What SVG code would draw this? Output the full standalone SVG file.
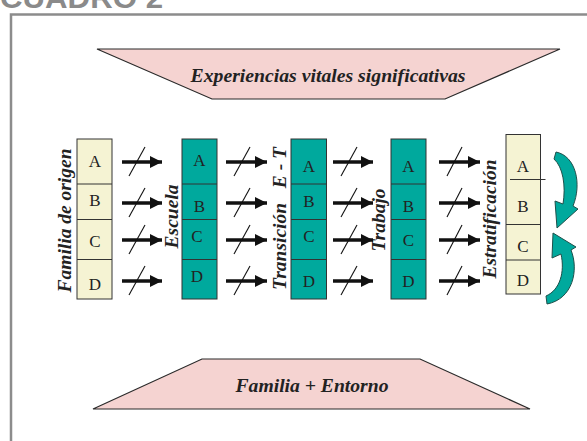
<svg xmlns="http://www.w3.org/2000/svg" width="587" height="441" viewBox="0 0 587 441">
<style>
.frame{fill:none;stroke:#8c8c8c;stroke-width:2.5}
.title{font-family:"Liberation Sans",Arial,sans-serif;font-weight:bold;font-size:30px;fill:#8a8a8a}
.trap{fill:#f5d3d1;stroke:#2a2a2a;stroke-width:1.2}
.trapText{font-family:"Liberation Serif","Times New Roman",serif;font-weight:bold;font-style:italic;font-size:18px;fill:#222;text-anchor:middle}
.cream{fill:#f5f3d3;stroke:#333;stroke-width:1}
.teal{fill:#00a99d;stroke:#333;stroke-width:1}
.div{stroke:#333;stroke-width:1}
.cell{font-family:"Liberation Serif","Times New Roman",serif;font-size:17px;fill:#222;text-anchor:middle}
.vlab{font-family:"Liberation Serif","Times New Roman",serif;font-weight:bold;font-style:italic;font-size:19.5px;fill:#222;text-anchor:middle}
.arr{stroke:#111;stroke-width:3.5;fill:none}
.sl{stroke:#111;stroke-width:1.1;fill:none}
.curv{fill:#00a99d;stroke:#1f4f4a;stroke-width:1}
</style>
<defs>
<marker id="ah" markerUnits="userSpaceOnUse" markerWidth="12" markerHeight="12" refX="10" refY="5" orient="auto" viewBox="0 0 10 10">
<path d="M0,0 L10,5 L0,10 z" fill="#111"/>
</marker>
</defs>

<text class="title" x="0" y="7.5" textLength="163" lengthAdjust="spacingAndGlyphs">CUADRO 2</text>
<path class="frame" d="M11,441 L11,14.5 L587,14.5"/>

<g id="experiencias">
<polygon class="trap" points="97,49 560,49 445,99 212,99"/>
<text class="trapText" x="328" y="82" textLength="275" lengthAdjust="spacingAndGlyphs">Experiencias vitales significativas</text>
</g>

<g id="familia-entorno">
<polygon class="trap" points="202,359 420,359 530,409 93,409"/>
<text class="trapText" x="312" y="392" textLength="153" lengthAdjust="spacingAndGlyphs">Familia + Entorno</text>
</g>

<g id="familia-origen">
<rect class="cream" x="77" y="139" width="35" height="160"/>
<line class="div" x1="77" y1="184" x2="112" y2="184"/>
<line class="div" x1="77" y1="219.5" x2="112" y2="219.5"/>
<line class="div" x1="77" y1="259.5" x2="112" y2="259.5"/>
<text class="cell" x="95" y="167">A</text>
<text class="cell" x="95" y="205.5">B</text>
<text class="cell" x="95" y="247">C</text>
<text class="cell" x="95" y="290">D</text>
<text class="vlab" transform="translate(71,220.5) rotate(-90)">Familia de origen</text>
</g>

<g id="escuela">
<rect class="teal" x="182" y="139" width="35" height="160"/>
<line class="div" x1="182" y1="184" x2="217" y2="184"/>
<line class="div" x1="182" y1="219.5" x2="217" y2="219.5"/>
<line class="div" x1="182" y1="259.5" x2="217" y2="259.5"/>
<text class="cell" x="199.5" y="165.5">A</text>
<text class="cell" x="199.5" y="211.5">B</text>
<text class="cell" x="197" y="241.5">C</text>
<text class="cell" x="197" y="281.5">D</text>
<text class="vlab" transform="translate(177.5,216.5) rotate(-90)">Escuela</text>
</g>

<g id="transicion">
<rect class="teal" x="291" y="139" width="35.5" height="160"/>
<line class="div" x1="291" y1="184" x2="326.5" y2="184"/>
<line class="div" x1="291" y1="219.5" x2="326.5" y2="219.5"/>
<line class="div" x1="291" y1="259.5" x2="326.5" y2="259.5"/>
<text class="cell" x="309" y="171.5">A</text>
<text class="cell" x="309" y="206.5">B</text>
<text class="cell" x="309" y="242">C</text>
<text class="cell" x="309" y="287">D</text>
<text class="vlab" transform="translate(286,218.5) rotate(-90)" xml:space="preserve">Transición   E - T</text>
</g>

<g id="trabajo">
<rect class="teal" x="391" y="139" width="35" height="160"/>
<line class="div" x1="391" y1="184" x2="426" y2="184"/>
<line class="div" x1="391" y1="219.5" x2="426" y2="219.5"/>
<line class="div" x1="391" y1="259.5" x2="426" y2="259.5"/>
<text class="cell" x="408.5" y="171.5">A</text>
<text class="cell" x="408.5" y="211.5">B</text>
<text class="cell" x="408.5" y="245.5">C</text>
<text class="cell" x="408.5" y="287">D</text>
<text class="vlab" transform="translate(384.5,220) rotate(-90)">Trabajo</text>
</g>

<g id="estratificacion">
<rect class="cream" x="506" y="134.5" width="34.5" height="159.5"/>
<line class="div" x1="510" y1="179.5" x2="545.5" y2="179.5"/>
<line class="div" x1="506" y1="224.5" x2="540.5" y2="224.5"/>
<line class="div" x1="506" y1="260" x2="540.5" y2="260"/>
<text class="cell" x="523" y="172">A</text>
<text class="cell" x="523" y="212">B</text>
<text class="cell" x="523" y="251.5">C</text>
<text class="cell" x="523" y="286">D</text>
<text class="vlab" transform="translate(496,219) rotate(-90)">Estratificación</text>
</g>

<g id="connectors">
<g marker-end="url(#ah)" class="arr">
<line x1="122" y1="162" x2="162" y2="162"/>
<line x1="122" y1="203" x2="162" y2="203"/>
<line x1="122" y1="240" x2="162" y2="240"/>
<line x1="122" y1="281" x2="162" y2="281"/>
<line x1="226" y1="162" x2="267" y2="162"/>
<line x1="226" y1="203" x2="267" y2="203"/>
<line x1="226" y1="240" x2="267" y2="240"/>
<line x1="226" y1="281" x2="267" y2="281"/>
<line x1="333" y1="162" x2="373" y2="162"/>
<line x1="333" y1="203" x2="373" y2="203"/>
<line x1="333" y1="240" x2="373" y2="240"/>
<line x1="333" y1="281" x2="373" y2="281"/>
<line x1="439" y1="162" x2="480" y2="162"/>
<line x1="439" y1="203" x2="480" y2="203"/>
<line x1="439" y1="240" x2="480" y2="240"/>
<line x1="439" y1="281" x2="480" y2="281"/>
</g>
<g class="sl">
<line x1="129" y1="176" x2="145" y2="147"/>
<line x1="129" y1="217" x2="145" y2="188"/>
<line x1="129" y1="254" x2="145" y2="225"/>
<line x1="129" y1="295" x2="145" y2="266"/>
<line x1="234" y1="176" x2="250" y2="147"/>
<line x1="234" y1="217" x2="250" y2="188"/>
<line x1="234" y1="254" x2="250" y2="225"/>
<line x1="234" y1="295" x2="250" y2="266"/>
<line x1="341" y1="176" x2="357" y2="147"/>
<line x1="341" y1="217" x2="357" y2="188"/>
<line x1="341" y1="254" x2="357" y2="225"/>
<line x1="341" y1="295" x2="357" y2="266"/>
<line x1="447" y1="176" x2="462" y2="147"/>
<line x1="447" y1="217" x2="462" y2="188"/>
<line x1="447" y1="254" x2="462" y2="225"/>
<line x1="447" y1="295" x2="462" y2="266"/>
</g>
<path class="curv" d="M556,152 C576,156 582,184 573,206 L578,209 L557,228 L555,201 L563,204 C566,186 563,167 554,159 Z"/>
<path class="curv" d="M547,304 C573,299 579,270 571,250 L576,247 L553,233 L552,258 L561,254 C565,272 560,290 546,296 Z"/>
</g>
</svg>
